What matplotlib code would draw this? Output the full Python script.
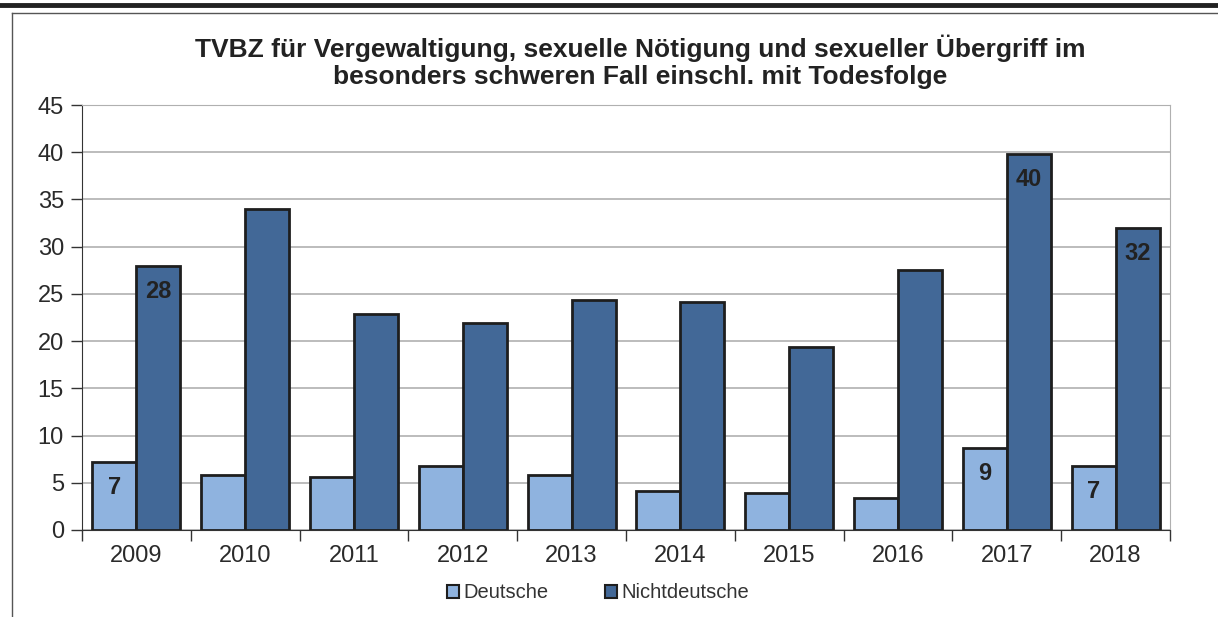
import numpy as np
import matplotlib.pyplot as plt
from matplotlib.lines import Line2D

plt.rcParams['font.family'] = ['Liberation Sans', 'DejaVu Sans']

years = ['2009', '2010', '2011', '2012', '2013', '2014', '2015', '2016', '2017', '2018']
deutsche = [7.2, 5.8, 5.6, 6.8, 5.8, 4.1, 3.9, 3.4, 8.7, 6.8]
nichtdeutsche = [28, 34, 22.9, 21.9, 24.4, 24.1, 19.4, 27.5, 39.8, 32]
# labels shown in the source only for some bars
labels_de = {0: '7', 8: '9', 9: '7'}
labels_nd = {0: '28', 8: '40', 9: '32'}

light = '#8fb3df'
dark = '#426897'
edge = '#1e1e1e'

fig = plt.figure(figsize=(12.18, 6.17), dpi=100)
ax = fig.add_axes([82/1218, 1 - 530/617, (1170-82)/1218, (530-105)/617])

x = np.arange(len(years))
w = 0.405
ax.bar(x - w/2, deutsche, w, color=light, edgecolor=edge, linewidth=2, zorder=3)
ax.bar(x + w/2, nichtdeutsche, w, color=dark, edgecolor=edge, linewidth=2, zorder=3)

for i, t in labels_de.items():
    ax.text(x[i] - w/2, deutsche[i] - 2.7, t, ha='center', va='center',
            fontsize=17, fontweight='bold', color='#222222', zorder=4)
for i, t in labels_nd.items():
    ax.text(x[i] + w/2, nichtdeutsche[i] - 2.7, t, ha='center', va='center',
            fontsize=17, fontweight='bold', color='#222222', zorder=4)

ax.set_xlim(-0.5, len(years) - 0.5)
ax.set_ylim(0, 45)
ax.set_yticks(range(0, 46, 5))
ax.yaxis.grid(True, color='#b0b0b0', linewidth=1.2, zorder=0)
ax.set_xticks(x)
ax.set_xticklabels(years)
ax.set_xticks(np.arange(-0.5, len(years), 1), minor=True)
ax.tick_params(axis='x', which='major', length=0, labelsize=17, pad=11, colors='#2a2a2a')
ax.tick_params(axis='x', which='minor', length=8, width=1, color='#333333')
ax.tick_params(axis='y', labelsize=17, length=8, width=1, color='#333333', labelcolor='#2a2a2a', pad=5)

for s in ['top', 'right']:
    ax.spines[s].set_color('#b0b0b0')
ax.spines['left'].set_color('#333333')
ax.spines['bottom'].set_color('#333333')

fig.text(640/1218, 1 - 62/617,
         'TVBZ für Vergewaltigung, sexuelle Nötigung und sexueller Übergriff im\n'
         'besonders schweren Fall einschl. mit Todesfolge',
         ha='center', va='center', fontsize=19, fontweight='bold', color='#222222',
         linespacing=1.15)

handles = [plt.Rectangle((0, 0), 1, 1, facecolor=light, edgecolor=edge, linewidth=1.5),
           plt.Rectangle((0, 0), 1, 1, facecolor=dark, edgecolor=edge, linewidth=1.5)]
fig.legend(handles, ['Deutsche', 'Nichtdeutsche'], loc='center', bbox_to_anchor=(598/1218, 1 - 593/617),
           ncol=2, frameon=False, fontsize=14.5, handlelength=0.6, handleheight=0.6,
           handletextpad=0.2, columnspacing=2.8, labelcolor='#333333')

# page frame lines
fig.add_artist(Line2D([0, 1], [1 - 5/617, 1 - 5/617], color='#222222', linewidth=3.5))
fig.add_artist(Line2D([12/1218, 1], [1 - 13/617, 1 - 13/617], color='#555555', linewidth=1))
fig.add_artist(Line2D([12/1218, 12/1218], [0, 1 - 13/617], color='#555555', linewidth=1))

fig.savefig('out.png', dpi=100)
